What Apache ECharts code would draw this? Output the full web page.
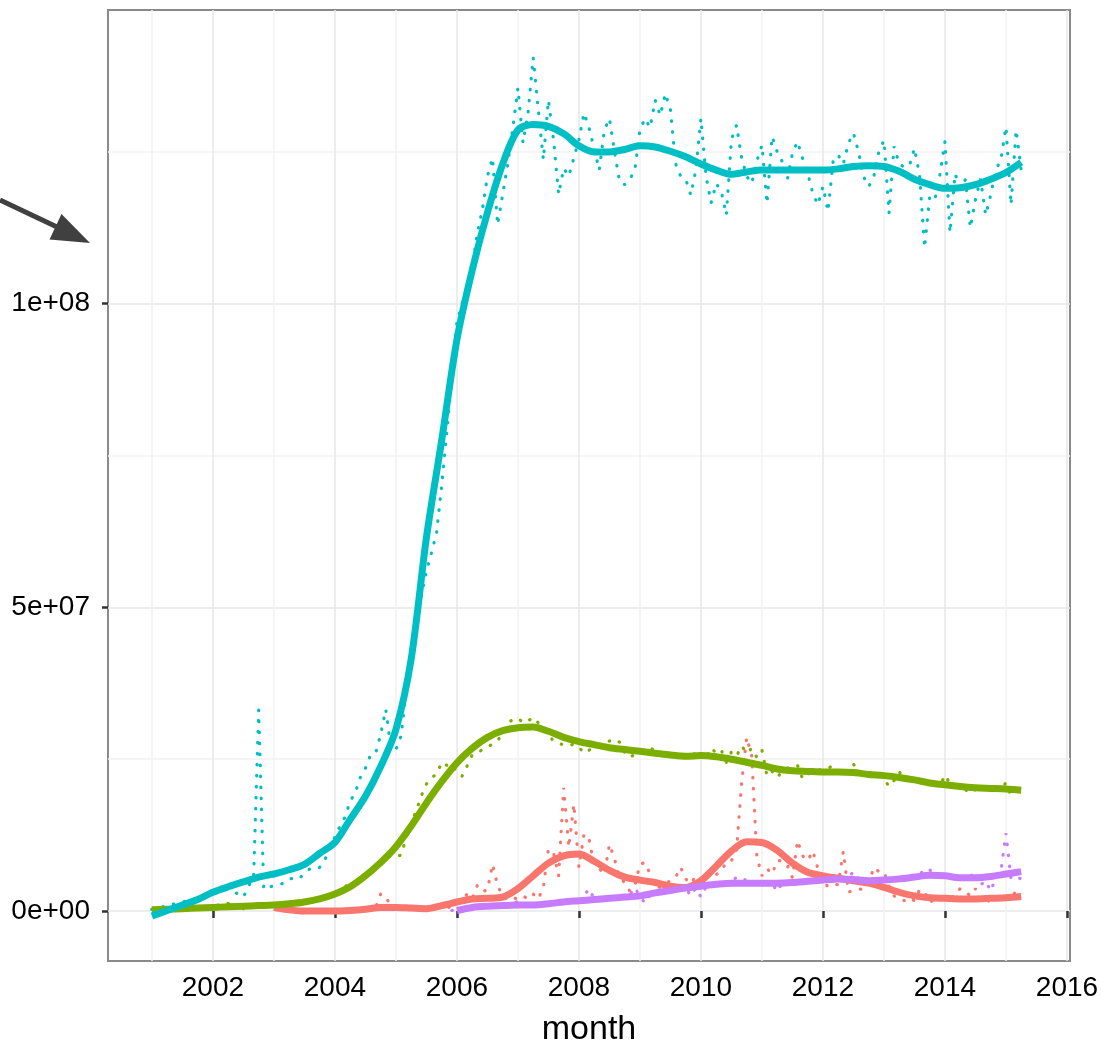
<!DOCTYPE html>
<html>
<head>
<meta charset="utf-8">
<title>Monthly totals</title>
<script src="https://cdn.jsdelivr.net/npm/echarts@6/dist/echarts.min.js"></script>
<style>
  html, body { margin: 0; padding: 0; background: #ffffff; }
  #chart { width: 1103px; height: 1052px; }
</style>
</head>
<body>
<div id="chart"></div>
<script>
// ---- data (values in millions) ----
const FIRST_YEAR = 2001;          // month index 0 = Jan 2001

// monthly raw values, one array per group, with the month index each starts at
const redStart = 23;
const redRaw = [
  0.8,
  0.6,0.5,0.3,0.2,0.2,0.2,0.2,0.3,0.2,0.2,0.2,0.3,
  0.3,0.3,0.3,0.4,0.4,0.5,0.4,0.5,0.6,2.8,2.5,0.6,
  0.5,0.4,0.4,0.5,0.4,0.4,0.5,0.4,0.5,0.6,0.5,0.8,
  1.5,1.8,2.8,2.0,4.2,3.2,3.5,7.7,4.2,2.5,1.8,2.2,
  2.0,2.5,2.0,2.8,2.0,3.9,10.2,9.6,5.8,20.3,10.5,17.6,
  7.2,12.7,11.8,7.5,7.0,6.0,11.0,8.6,5.5,4.7,3.3,4.2,
  7.7,8.0,6.1,4.0,3.9,4.5,5.0,5.5,7.2,5.3,4.5,5.8,
  4.8,5.5,6.4,6.0,6.6,8.1,8.3,10.0,21.0,28.6,25.5,9.0,
  5.8,7.0,6.1,8.3,8.3,7.5,5.5,11.6,9.1,8.3,9.9,7.0,
  5.0,4.0,4.2,4.4,9.8,3.1,3.4,3.6,3.6,4.5,7.2,6.5,
  6.5,4.0,2.5,2.0,1.7,2.2,1.7,3.5,3.2,1.4,2.0,1.8,
  2.0,2.2,2.5,3.7,3.2,2.5,3.7,1.7,2.0,1.4,1.8,2.0,
  2.2,1.7,3.5,3.9
];

const greenStart = 0;
const greenRaw = [
  0.3,0.3,0.4,0.4,0.5,0.5,0.5,0.6,0.6,0.7,0.7,0.8,
  0.8,1.0,0.9,1.3,0.3,1.2,0.4,0.9,1.0,1.1,0.9,1.0,
  1.1,1.0,1.2,1.3,1.2,1.4,1.5,1.6,1.8,1.9,2.1,2.3,
  2.6,3.0,4.2,3.8,4.5,5.0,5.8,6.3,7.0,7.6,8.4,9.2,
  9.0,9.2,12.0,14.5,16.5,19.0,20.9,22.0,22.5,24.5,24.0,24.2,
  22.8,22.2,23.9,25.7,26.0,26.6,27.0,27.5,28.0,29.5,31.0,31.5,
  31.8,31.0,31.3,31.9,31.0,30.0,29.0,28.0,27.6,27.4,27.2,27.5,
  27.0,26.0,26.5,27.0,27.3,27.6,28.0,28.3,27.8,26.1,25.3,25.8,
  26.2,26.5,26.9,26.4,26.0,25.8,25.5,25.7,25.4,25.6,25.8,25.9,
  26.2,25.0,26.9,26.0,26.5,24.5,26.2,25.5,27.2,26.0,26.8,25.3,
  26.5,22.2,23.0,22.0,23.0,23.5,23.8,24.0,21.8,22.5,23.0,23.2,
  23.3,23.5,24.0,23.0,23.5,23.0,24.2,23.0,22.2,22.5,22.0,22.3,
  21.8,20.5,21.5,22.9,22.0,21.8,22.2,21.3,21.5,21.0,21.2,20.5,
  22.4,21.0,20.5,20.2,20.0,19.4,20.0,20.3,20.1,20.0,20.4,20.2,
  21.1,19.0,20.2,20.5
];

const cyanStart = 0;
const cyanRaw = [
  0.3,0.5,0.7,0.9,1.1,1.3,1.5,1.7,1.9,2.2,2.4,2.7,
  3.0,3.3,3.4,3.6,3.2,2.8,2.3,4.1,5.5,33.1,3.6,4.0,
  4.1,4.4,4.6,5.3,5.4,5.3,6.3,6.9,6.8,7.2,8.4,10.3,
  12.2,14.0,15.5,18.1,19.5,22.0,23.5,25.7,26.0,29.1,33.2,26.9,
  26.6,28.8,36.0,42.0,48.0,52.0,56.0,59.0,62.3,70.0,78.8,88.0,
  97.0,100.0,102.0,106.0,111.5,115.5,121.0,124.0,113.0,118.0,123.0,129.0,
  135.5,126.5,131.5,140.5,132.0,123.7,133.5,127.0,118.0,122.3,121.0,124.0,
  127.0,131.4,128.9,125.5,122.0,128.6,130.5,125.0,120.1,119.6,120.5,122.0,
  128.6,130.5,129.0,133.5,131.0,134.6,131.9,123.1,121.0,120.5,117.9,122.0,
  130.5,121.0,116.6,119.8,118.5,114.6,127.0,129.4,124.0,121.0,119.8,123.5,
  126.1,116.5,127.5,125.0,123.4,120.4,124.8,126.7,123.9,121.5,118.2,116.3,
  119.3,115.2,123.4,124.5,123.0,126.4,128.1,125.0,120.9,119.3,120.9,125.0,
  126.9,114.9,125.9,123.0,122.5,122.7,125.6,121.2,109.2,117.6,117.1,121.2,
  126.7,111.7,121.4,119.0,120.4,112.5,117.1,120.6,114.6,117.9,122.0,123.7,
  129.1,116.3,128.6,122.0
];

const purpleStart = 59;
const purpleRaw = [
  0.1,
  0.3,0.5,0.4,0.6,0.7,0.6,0.8,0.9,0.8,0.9,1.0,1.0,
  1.7,1.0,1.1,0.9,1.0,1.2,1.1,1.3,1.4,1.4,1.5,1.6,
  1.8,2.5,3.7,2.0,1.9,2.0,2.1,2.2,2.3,2.2,2.6,3.9,
  2.4,1.3,2.7,2.8,3.0,3.2,3.4,3.6,3.5,3.8,2.5,3.8,
  2.3,4.0,4.2,4.4,4.6,4.8,5.0,5.5,5.6,4.9,4.6,4.5,
  4.5,4.4,4.6,3.2,4.7,4.8,4.9,5.0,4.9,5.1,5.2,5.0,
  5.3,5.2,5.4,5.3,5.2,5.5,6.5,5.4,5.0,4.9,5.1,5.2,
  5.3,5.2,5.4,5.5,5.6,5.5,5.8,5.9,7.0,6.8,6.0,5.8,
  5.6,5.5,5.4,5.6,5.5,5.7,6.5,4.3,5.0,3.3,5.5,6.5,
  12.8,5.3,5.6,5.3
];

// smoothed trend, sampled every quarter from the given start year
const redTrendStart = 2003;
const redTrend = [
  0.6,0.2,0.0,0.0, 0.0,0.1,0.3,0.6, 0.6,0.5,0.4,0.9,
  1.5,2.0,2.1,2.3, 3.7,5.8,7.9,9.1, 9.4,8.2,6.7,5.6,
  5.1,4.7,4.1,3.9, 5.0,7.4,9.9,11.4, 11.3,10.0,7.9,6.4,
  5.8,5.4,5.0,4.6, 3.9,3.1,2.5,2.2, 2.1,2.0,2.0,2.1,
  2.2,2.4
];
const greenTrendStart = 2001;
const greenTrend = [
  0.2,0.3,0.4,0.5, 0.6,0.7,0.8,0.9, 1.0,1.2,1.5,2.0,
  2.8,4.0,5.8,8.0, 10.6,14.0,17.8,21.3, 24.4,26.8,28.6,29.7,
  30.2,30.3,29.6,28.6, 27.9,27.4,26.9,26.6, 26.3,26.0,25.7,25.5,
  25.6,25.4,25.0,24.5, 24.0,23.4,23.1,23.0, 22.9,22.9,22.8,22.5,
  22.3,22.0,21.6,21.1, 20.8,20.5,20.3,20.2, 20.1,19.9
];
const cyanTrendStart = 2001;
const cyanTrend = [
  -0.8,0.1,1.0,1.9, 3.1,4.0,4.8,5.6, 6.1,6.8,7.7,9.5,
  11.3,15.1,18.9,23.8, 29.9,41.5,61.5,77.5, 94.1,105.5,115.0,123.0,
  128.6,129.5,129.2,128.0, 126.0,125.0,125.0,125.4, 126.0,125.8,125.1,124.2,
  123.0,122.0,121.3,121.7, 122.0,122.0,122.0,122.0, 122.0,122.2,122.6,122.7,
  122.6,121.8,120.5,119.6, 119.0,119.1,119.6,120.5, 121.6,123.3
];
const purpleTrendStart = 2006;
const purpleTrend = [
  0.1,0.6,0.8,0.9, 1.0,1.0,1.2,1.5, 1.7,1.9,2.1,2.3,
  2.5,3.0,3.4,3.8, 4.1,4.4,4.6,4.6, 4.6,4.6,4.7,4.9,
  5.1,5.3,5.2,5.0, 5.1,5.3,5.6,5.9, 5.8,5.5,5.5,5.7,
  6.1,6.5
];

// axis ticks
const xMajorYears = [2002, 2004, 2006, 2008, 2010, 2012, 2014, 2016];
const xMinorYears = [2001, 2003, 2005, 2007, 2009, 2011, 2013, 2015];
const yMajorValues = [0, 5e7, 1e8];
const yMajorLabels = ['0e+00', '5e+07', '1e+08'];
const yMinorValues = [2.5e7, 7.5e7, 1.25e8];

// ---- layout & style ----
const MILLION = 1e6;
const X_MIN = 2000.28, X_MAX = 2016.05;
const Y_MIN = -8.22e6, Y_MAX = 148.36e6;
const FONT = "'Liberation Sans', Arial, Helvetica, sans-serif";
const palette = { red: '#F8766D', green: '#7CAE00', cyan: '#00BFC4', purple: '#C77CFF' };

function monthly(start, vals) {
  return vals.map((v, i) => [FIRST_YEAR + (start + i) / 12, v * MILLION]);
}
function quarterly(startYear, vals) {
  return vals.map((v, i) => [startYear + i / 4, v * MILLION]);
}

function rawSeries(name, color, data) {
  return {
    name: name + ' monthly', type: 'line', data: data,
    xAxisIndex: 0, yAxisIndex: 0,
    showSymbol: false, symbol: 'none', smooth: false, z: 3,
    lineStyle: { color: color, width: 3.2, type: [0.5, 10.5], cap: 'round' },
    emphasis: { disabled: true }
  };
}
function trendSeries(name, color, data) {
  return {
    name: name + ' trend', type: 'line', data: data,
    xAxisIndex: 0, yAxisIndex: 0,
    showSymbol: false, symbol: 'none', smooth: 0.3, z: 4,
    lineStyle: { color: color, width: 7, cap: 'butt' },
    emphasis: { disabled: true }
  };
}

const chart = echarts.init(document.getElementById('chart'), null, { renderer: 'canvas' });

const option = {
  animation: false,
  backgroundColor: '#ffffff',
  grid: {
    left: 108, right: 33, top: 10, bottom: 90,
    show: true, backgroundColor: '#ffffff',
    borderColor: '#8a8a8a', borderWidth: 2
  },
  xAxis: [
    {
      type: 'value', min: X_MIN, max: X_MAX, position: 'bottom',
      axisLine: { show: false },
      axisTick: {
        show: true, customValues: xMajorYears, length: 7,
        lineStyle: { color: '#333333', width: 2.5 }
      },
      axisLabel: {
        customValues: xMajorYears, formatter: v => String(v),
        fontSize: 28, color: '#000000', fontFamily: FONT, margin: 13
      },
      splitLine: { show: true, lineStyle: { color: '#e7e7e7', width: 1.5 } },
      name: 'month', nameLocation: 'middle', nameGap: 52,
      nameTextStyle: { fontSize: 34, color: '#000000', fontFamily: FONT }
    },
    {
      type: 'value', min: X_MIN, max: X_MAX, position: 'bottom',
      axisLine: { show: false },
      axisTick: { show: false, customValues: xMinorYears },
      axisLabel: { show: false, customValues: xMinorYears },
      splitLine: { show: true, lineStyle: { color: '#f2f2f2', width: 1.5 } }
    }
  ],
  yAxis: [
    {
      type: 'value', min: Y_MIN, max: Y_MAX, position: 'left',
      axisLine: { show: false },
      axisTick: {
        show: true, customValues: yMajorValues, length: 6,
        lineStyle: { color: '#333333', width: 2.5 }
      },
      axisLabel: {
        customValues: yMajorValues,
        formatter: v => yMajorLabels[yMajorValues.indexOf(v)] ?? '',
        fontSize: 28, color: '#000000', fontFamily: FONT, margin: 18
      },
      splitLine: { show: true, lineStyle: { color: '#e7e7e7', width: 1.5 } }
    },
    {
      type: 'value', min: Y_MIN, max: Y_MAX, position: 'left',
      axisLine: { show: false },
      axisTick: { show: false, customValues: yMinorValues },
      axisLabel: { show: false, customValues: yMinorValues },
      splitLine: { show: true, lineStyle: { color: '#f2f2f2', width: 1.5 } }
    }
  ],
  series: [
    rawSeries('red', palette.red, monthly(redStart, redRaw)),
    rawSeries('green', palette.green, monthly(greenStart, greenRaw)),
    rawSeries('cyan', palette.cyan, monthly(cyanStart, cyanRaw)),
    rawSeries('purple', palette.purple, monthly(purpleStart, purpleRaw)),
    trendSeries('red', palette.red, quarterly(redTrendStart, redTrend)),
    trendSeries('green', palette.green, quarterly(greenTrendStart, greenTrend)),
    trendSeries('cyan', palette.cyan, quarterly(cyanTrendStart, cyanTrend)),
    trendSeries('purple', palette.purple, quarterly(purpleTrendStart, purpleTrend))
  ],
  graphic: [
    // pointer arrow at the upper left
    {
      type: 'line', silent: true, z: 10,
      shape: { x1: 0, y1: 200, x2: 57, y2: 227 },
      style: { stroke: '#404040', lineWidth: 5 }
    },
    {
      type: 'polygon', silent: true, z: 10,
      shape: { points: [[90, 243], [49.5, 239.5], [61.5, 214]] },
      style: { fill: '#404040' }
    }
  ]
};

chart.setOption(option);
</script>
</body>
</html>
